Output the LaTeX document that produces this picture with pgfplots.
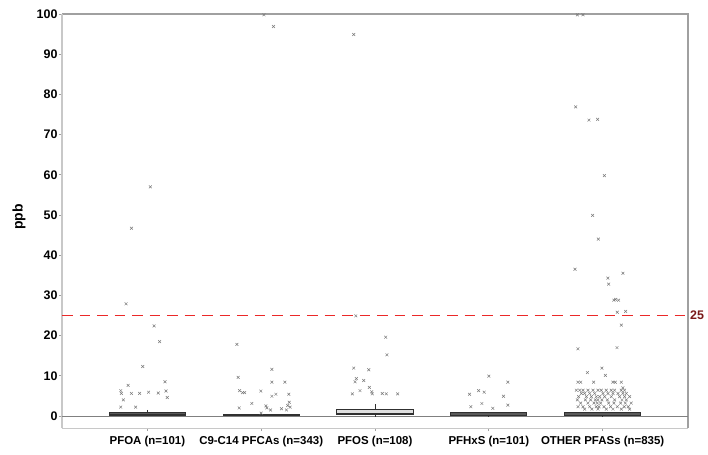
\documentclass[border=0pt]{standalone}
\usepackage{fontspec}
\setmainfont{Liberation Sans}
\usepackage{pgfplots}
\pgfplotsset{compat=1.18}
\usepgfplotslibrary{statistics}
\usetikzlibrary{calc}
\definecolor{markgray}{HTML}{7A7A7A}
\definecolor{framegray}{HTML}{A0A0A0}
\definecolor{leftgray}{HTML}{C8C8C8}
\definecolor{boxdark}{HTML}{5A5A5A}
\definecolor{boxline}{HTML}{303030}
\definecolor{boxlight}{HTML}{E0E0E0}
\definecolor{refred}{rgb}{0.92,0.16,0.16}
\definecolor{labred}{rgb}{0.48,0.10,0.10}
\begin{document}
\begin{tikzpicture}
\begin{axis}[
  width=626bp, height=414bp, scale only axis,
  clip mode=individual,
  xmin=0.25, xmax=5.75, ymin=-3, ymax=100,
  xtick={1,2,3,4,5},
  xticklabels={PFOA (n=101), C9-C14 PFCAs (n=343), PFOS (n=108), PFHxS (n=101), OTHER PFASs (n=835)},
  ytick={0,10,...,100},
  tick pos=left, tick align=outside,
  major tick length=3bp,
  tick style={framegray, line width=0.8bp},
  axis line style={draw=none},
  xticklabel style={font=\fontsize{11.5}{13}\selectfont\bfseries, yshift=-2bp},
  yticklabel style={font=\fontsize{12.5}{14}\selectfont\bfseries, xshift=2bp},
  /pgf/number format/assume math mode=true,
  ylabel={ppb},
  every axis y label/.style={at={(rel axis cs:0,0.51)}, xshift=-43bp, rotate=90, anchor=center, font=\fontsize{14}{16}\selectfont\bfseries},
  boxplot/draw direction=y,
  boxplot/box extend=0.67,
  boxplot/whisker extend=0,
]
% frame
\draw[framegray, line width=1.2bp] (rel axis cs:0,1) -- (rel axis cs:1,1) -- (rel axis cs:1,0);
\draw[leftgray, line width=2.2bp] (rel axis cs:0,0) -- (rel axis cs:0,1);
\draw[leftgray, line width=1bp] (rel axis cs:0,0) -- (rel axis cs:1,0);
% zero line
\addplot[draw=gray, line width=1.3bp, forget plot] coordinates {(0.25,-0.15) (5.75,-0.15)};
% boxes
\addplot[draw=boxline, line width=1bp, fill=boxdark, boxplot prepared={lower whisker=0, lower quartile=0, median=0.3, upper quartile=0.9, upper whisker=1.5, draw position=1}] coordinates {};
\addplot[draw=boxline, line width=1bp, fill=boxdark, boxplot prepared={lower whisker=0, lower quartile=0, median=0.1, upper quartile=0.45, upper whisker=0.5, draw position=2}] coordinates {};
\addplot[draw=boxline, line width=1bp, fill=boxlight, boxplot prepared={lower whisker=-0.2, lower quartile=0.25, median=0.5, upper quartile=1.7, upper whisker=2.9, draw position=3}] coordinates {};
\addplot[draw=boxline, line width=1bp, fill=boxdark, boxplot prepared={lower whisker=-0.2, lower quartile=0, median=0.2, upper quartile=0.75, upper whisker=0.8, draw position=4}] coordinates {};
\addplot[draw=boxline, line width=1bp, fill=boxdark, boxplot prepared={lower whisker=-0.2, lower quartile=0, median=0.2, upper quartile=0.8, upper whisker=1.0, draw position=5}] coordinates {};
% outliers
\addplot[only marks, mark=x, mark size=2bp, markgray, mark options={line width=0.5bp}] coordinates {
(1.026,57.0) (0.860,46.7) (0.813,27.9) (1.059,22.4) (1.108,18.5) (0.959,12.3)
(0.831,7.6) (0.766,6.3) (0.772,5.6) (0.860,5.6) (0.932,5.6) (1.011,5.9)
(1.096,5.7) (1.155,8.5) (1.164,6.2) (1.175,4.6) (0.789,4.0) (0.766,2.2) (0.897,2.2)
};
\addplot[only marks, mark=x, mark size=2bp, markgray, mark options={line width=0.5bp}] coordinates {
(2.024,99.8) (2.108,96.9) (1.787,17.8) (1.798,9.6) (1.810,6.3) (1.836,5.8)
(1.854,5.8) (1.807,2.0) (1.918,3.1) (1.997,6.2) (2.094,11.6) (2.094,8.4)
(2.094,4.9) (2.129,5.4) (2.208,8.4) (2.243,5.4) (2.246,3.4) (2.234,2.6)
(2.222,1.5) (2.254,2.2) (2.178,1.8) (2.041,2.5) (2.050,2.0) (2.082,1.5) (2.0,0.7)
};
\addplot[only marks, mark=x, mark size=2bp, markgray, mark options={line width=0.5bp}] coordinates {
(2.813,94.9) (2.831,24.9) (3.094,19.6) (3.105,15.2) (2.813,11.9) (2.945,11.5)
(2.836,9.3) (2.825,8.5) (2.901,8.8) (2.950,7.1) (2.868,6.3) (2.801,5.5)
(2.971,6.0) (2.976,5.5) (3.064,5.6) (3.099,5.5) (3.199,5.5)
};
\addplot[only marks, mark=x, mark size=2bp, markgray, mark options={line width=0.5bp}] coordinates {
(4.0,9.9) (4.167,8.4) (3.831,5.4) (3.910,6.3) (3.959,5.9) (4.129,4.9)
(3.842,2.3) (3.939,3.1) (4.035,1.9) (4.167,2.7)
};
\addplot[only marks, mark=x, mark size=2bp, markgray, mark options={line width=0.5bp}] coordinates {
(4.778,99.8) (4.827,99.8) (4.763,76.9) (4.880,73.6) (4.956,73.8) (5.015,59.8)
(4.912,49.9) (4.962,44.0) (4.757,36.5) (5.178,35.5) (5.046,34.3) (5.053,32.8)
(5.114,29.0) (5.099,28.8) (5.140,28.8) (5.129,25.8) (5.202,26.0) (5.164,22.6)
(4.783,16.7) (5.126,17.0) (4.994,11.9) (4.866,10.8) (5.024,10.1) (4.783,8.4)
(4.807,8.4) (4.921,8.4) (5.090,8.4) (5.111,8.4) (5.164,8.4) (5.178,7.0)
(4.769,6.4) (4.798,6.4) (4.827,6.4) (4.871,6.4) (4.915,6.4) (4.959,6.4)
(4.988,6.4) (5.032,6.4) (5.076,6.4) (5.105,6.4) (5.164,6.4) (5.193,6.4)
(4.813,5.6) (4.842,5.6) (4.886,5.6) (4.930,5.6) (5.003,5.6) (5.047,5.6)
(5.091,5.6) (5.135,5.6) (5.178,5.6) (5.208,5.6)
(4.789,4.8) (4.857,4.8) (4.901,4.8) (4.944,4.8) (4.974,4.8) (5.018,4.8)
(5.076,4.8) (5.149,4.8) (5.193,4.8) (5.237,4.8)
(4.778,4.0) (4.848,4.0) (4.895,4.0) (4.936,4.0) (4.959,4.0) (4.994,4.0)
(5.041,4.0) (5.105,4.0) (5.170,4.0) (5.208,4.0)
(4.807,3.2) (4.871,3.2) (4.924,3.2) (4.953,3.2) (4.982,3.2) (5.053,3.2)
(5.099,3.2) (5.158,3.2) (5.199,3.2) (5.251,3.2)
(4.784,2.3) (4.827,2.3) (4.886,2.3) (4.944,2.3) (4.968,2.3) (5.012,2.3)
(5.070,2.3) (5.129,2.3) (5.190,2.3) (5.225,2.3)
(4.842,1.7) (4.906,1.7) (4.959,1.7) (5.032,1.7) (5.091,1.7) (5.164,1.7) (5.237,1.7)
};
% reference line at 25 ppb
\addplot[draw=refred, line width=1.6bp, dash pattern=on 10.5bp off 7bp, forget plot] coordinates {(0.25,25) (5.75,25)};
\node[anchor=west, text=labred, font=\fontsize{12.5}{14}\selectfont\bfseries, inner sep=2bp] at (axis cs:5.75,25) {25};
\coordinate (bl) at (rel axis cs:0,0);
\coordinate (tr) at (rel axis cs:1,1);
\end{axis}
\pgfresetboundingbox
\path[use as bounding box] ($(bl)+(-62bp,-26bp)$) rectangle ($(tr)+(20bp,14bp)$);
\end{tikzpicture}
\end{document}
